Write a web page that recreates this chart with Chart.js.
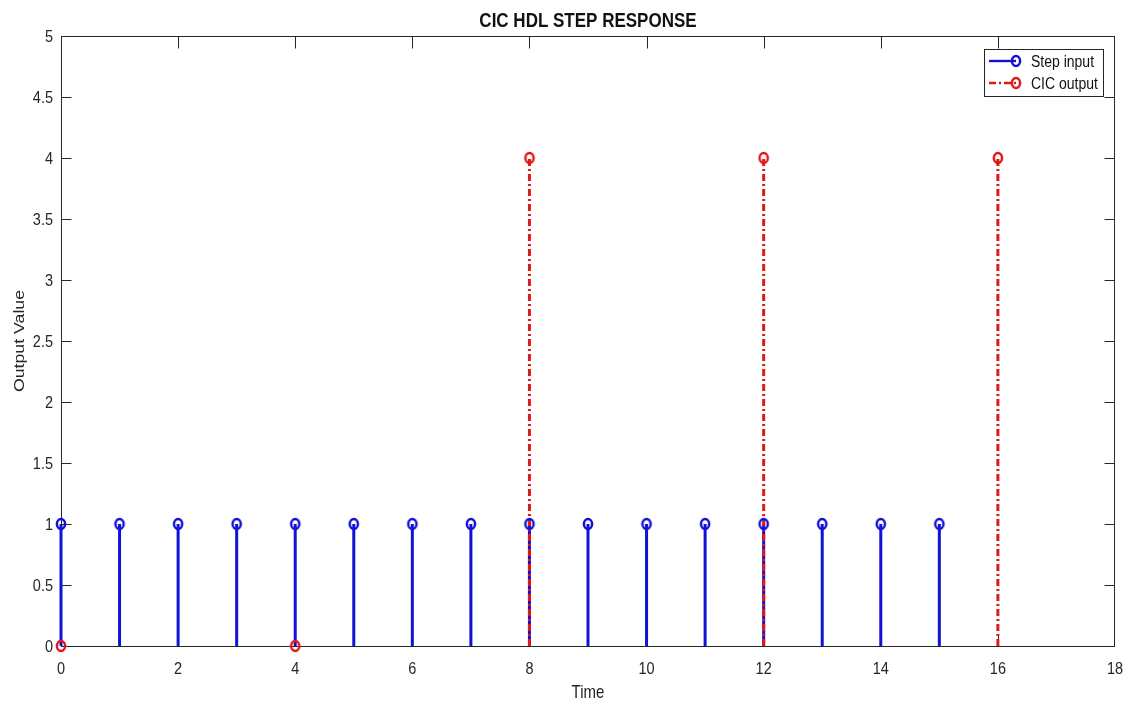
<!DOCTYPE html>
<html><head><meta charset="utf-8">
<script src="https://cdn.jsdelivr.net/npm/chart.js@4/dist/chart.umd.min.js"></script>
<style>html,body{margin:0;padding:0;background:#fff;overflow:hidden}#wrap{width:1134px;height:704px;position:relative}</style>
</head><body><div id="wrap"><canvas id="c" width="1134" height="704"></canvas></div>
<script>
// ---- data ----
const stepTime   = [0,1,2,3,4,5,6,7,8,9,10,11,12,13,14,15];
const stepValues = [1,1,1,1,1,1,1,1,1,1,1,1,1,1,1,1];
const cicTime    = [0,4,8,12,16];
const cicValues  = [0,0,4,4,4];
const xTickValues = [0,2,4,6,8,10,12,14,16,18];
const yTickValues = [0,0.5,1,1.5,2,2.5,3,3.5,4,4.5,5];
const titleText = 'CIC HDL STEP RESPONSE';
const xTitle = 'Time';
const yTitle = 'Output Value';
const legendLabels = ['Step input','CIC output'];

const BLUE = '#1212d6', RED = '#e01818', AXIS = '#262626';
const SY = 1.18;
const FONT = '"Liberation Sans", Arial, Helvetica, sans-serif';
const RED_DASH = [7,3,2,3];

function stems(xs, ys){
  const out = [];
  xs.forEach((x,i)=>{ out.push({x:x,y:0},{x:x,y:ys[i]},{x:x,y:null}); });
  return out;
}
function points(xs, ys){ return xs.map((x,i)=>({x:x,y:ys[i]})); }
function markerImg(color){
  const c = document.createElement('canvas'); c.width = 16; c.height = 16;
  const g = c.getContext('2d'); g.strokeStyle = color; g.lineWidth = 2.5;
  g.beginPath(); g.ellipse(8,8,4.1,5.0,0,0,Math.PI*2); g.stroke();
  return c;
}
const blueMarker = markerImg(BLUE), redMarker = markerImg(RED);

function txt(ctx, s, x, y, align, font, color, rot){
  ctx.save();
  ctx.translate(x,y);
  ctx.scale(1,SY);
  if (rot) ctx.rotate(-Math.PI/2);
  ctx.font = font; ctx.fillStyle = color || AXIS;
  ctx.textAlign = align; ctx.textBaseline = 'alphabetic';
  ctx.fillText(s,0,0);
  ctx.restore();
}

const framePlugin = {
  id:'frame',
  beforeDatasetsDraw(chart){
    const {ctx, chartArea:a, scales:{x,y}} = chart;
    const L = Math.round(a.left)+0.5, R = Math.round(a.right)-0.5, T = Math.round(a.top)+0.5, B = Math.round(a.bottom)+0.5;
    ctx.save();
    ctx.strokeStyle = AXIS; ctx.lineWidth = 1;
    ctx.strokeRect(L, T, R-L, B-T);
    ctx.beginPath();
    xTickValues.forEach(v=>{
      const px = Math.min(R, Math.round(x.getPixelForValue(v))+0.5);
      ctx.moveTo(px,B); ctx.lineTo(px,B-12);
      ctx.moveTo(px,T); ctx.lineTo(px,T+12);
    });
    yTickValues.forEach(v=>{
      const py = Math.round(y.getPixelForValue(v))+0.5;
      ctx.moveTo(L,py); ctx.lineTo(L+10,py);
      ctx.moveTo(R,py); ctx.lineTo(R-10,py);
    });
    ctx.stroke();
    ctx.restore();
  },
  afterDraw(chart){
    const {ctx, chartArea:a, scales:{x,y}} = chart;
    const tf = '14.5px ' + FONT;
    xTickValues.forEach(v=> txt(ctx, String(v), x.getPixelForValue(v), 674, 'center', tf));
    yTickValues.forEach(v=> txt(ctx, String(v), 53, y.getPixelForValue(v)+6, 'right', tf));
    const cx = (a.left+a.right)/2;
    txt(ctx, titleText, cx, 27, 'center', 'bold 17px ' + FONT, '#111');
    txt(ctx, xTitle, cx, 698, 'center', '15px ' + FONT);
    txt(ctx, yTitle, 24, (a.top+a.bottom)/2, 'center', '15px ' + FONT, AXIS, true);
    // legend
    ctx.save();
    ctx.fillStyle = '#fff'; ctx.strokeStyle = AXIS; ctx.lineWidth = 1;
    ctx.fillRect(984.5,49.5,119,47); ctx.strokeRect(984.5,49.5,119,47);
    const rows = [[61,BLUE,[],blueMarker],[83,RED,RED_DASH,redMarker]];
    rows.forEach((r,i)=>{
      ctx.strokeStyle = r[1]; ctx.lineWidth = 2.4; ctx.setLineDash(r[2]);
      ctx.beginPath(); ctx.moveTo(989,r[0]); ctx.lineTo(1016,r[0]); ctx.stroke();
      ctx.setLineDash([]);
      ctx.drawImage(r[3], 1016-8, r[0]-8);
      txt(ctx, legendLabels[i], 1031, r[0]+5.5, 'left', '14px ' + FONT, '#111');
    });
    ctx.restore();
  }
};

new Chart(document.getElementById('c'), {
  type:'line',
  data:{ datasets:[
    { label:'stemsStep', data:stems(stepTime,stepValues), borderColor:BLUE, borderWidth:3, pointRadius:0, spanGaps:false, order:4, clip:false },
    { label:'stemsCic', data:stems(cicTime,cicValues), borderColor:RED, borderWidth:3, borderDash:RED_DASH, pointRadius:0, spanGaps:false, order:3, clip:false },
    { label:legendLabels[0], data:points(stepTime,stepValues), showLine:false, pointStyle:blueMarker, pointRadius:5, order:2, clip:false },
    { label:legendLabels[1], data:points(cicTime,cicValues), showLine:false, pointStyle:redMarker, pointRadius:5, order:1, clip:false }
  ]},
  options:{
    responsive:false, animation:false, devicePixelRatio:1,
    layout:{ padding:{ top:36, right:19, left:0, bottom:0 } },
    plugins:{ legend:{display:false}, title:{display:false}, tooltip:{enabled:false} },
    scales:{
      x:{ type:'linear', min:0, max:18, grid:{display:false}, border:{display:false}, ticks:{display:false},
          afterBuildTicks(s){ s.ticks = xTickValues.map(v=>({value:v})); },
          afterFit(s){ s.height = 58; } },
      y:{ type:'linear', min:0, max:5, grid:{display:false}, border:{display:false}, ticks:{display:false},
          afterBuildTicks(s){ s.ticks = yTickValues.map(v=>({value:v})); },
          afterFit(s){ s.width = 61; } }
    }
  },
  plugins:[framePlugin]
});
</script></body></html>
